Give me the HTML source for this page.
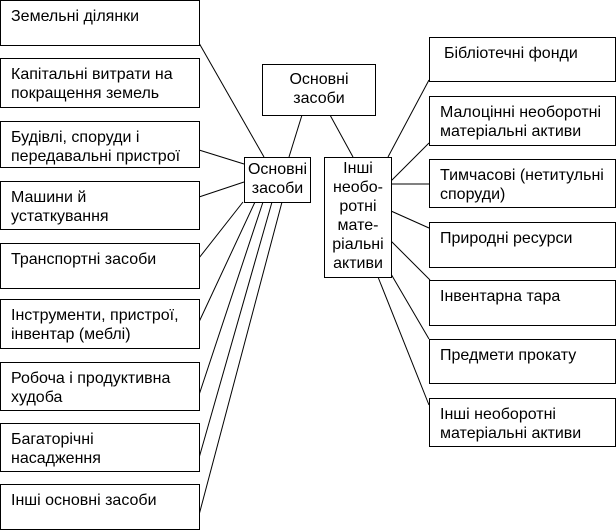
<!DOCTYPE html>
<html><head><meta charset="utf-8"><style>
body{margin:0;background:#fff;}
#c{position:relative;width:616px;height:530px;overflow:hidden;font-family:"Liberation Sans",Arial,sans-serif;font-size:16px;color:#000;}
.b{position:absolute;border:1px solid #000;box-sizing:border-box;background:#fff;line-height:19px;padding:6px 0 0 10px;white-space:nowrap;}
.cn{text-align:center;padding:2px 0 0 0;}
svg{position:absolute;left:0;top:0;}
</style></head><body><div id="c">
<svg width="616" height="530"><g stroke="#000" stroke-width="1" fill="none">
<line x1="302" y1="115" x2="289" y2="157"/>
<line x1="330" y1="115" x2="353" y2="157"/>
<line x1="199" y1="43" x2="264" y2="157"/>
<line x1="199" y1="150" x2="244" y2="164"/>
<line x1="199" y1="197" x2="244" y2="182"/>
<line x1="199" y1="258" x2="243" y2="202"/>
<line x1="199" y1="322" x2="255" y2="202"/>
<line x1="199" y1="395" x2="263" y2="202"/>
<line x1="199" y1="458" x2="272" y2="202"/>
<line x1="199" y1="515" x2="282" y2="202"/>
<line x1="388" y1="157" x2="429" y2="80"/>
<line x1="391" y1="181" x2="429" y2="143"/>
<line x1="391" y1="184" x2="429" y2="184"/>
<line x1="391" y1="211" x2="429" y2="228"/>
<line x1="391" y1="241" x2="430" y2="280"/>
<line x1="391" y1="274" x2="429" y2="339"/>
<line x1="378" y1="277" x2="429" y2="405"/>
</g></svg>
<div class="b" style="left:0;top:0;width:200px;height:46px">Земельні ділянки</div>
<div class="b" style="left:0;top:58px;width:200px;height:50px">Капітальні витрати на<br>покращення земель</div>
<div class="b" style="left:0;top:121px;width:200px;height:47px">Будівлі, споруди і<br>передавальні пристрої</div>
<div class="b" style="left:0;top:181px;width:200px;height:49px">Машини й<br>устаткування</div>
<div class="b" style="left:0;top:243px;width:200px;height:46px">Транспортні засоби</div>
<div class="b" style="left:0;top:299px;width:200px;height:50px">Інструменти, пристрої,<br>інвентар (меблі)</div>
<div class="b" style="left:0;top:362px;width:200px;height:49px">Робоча і продуктивна<br>худоба</div>
<div class="b" style="left:0;top:423px;width:200px;height:49px">Багаторічні<br>насадження</div>
<div class="b" style="left:0;top:484px;width:200px;height:46px">Інші основні засоби</div>
<div class="b cn" style="left:262px;top:64px;width:114px;height:52px;padding-top:5px">Основні<br>засоби</div>
<div class="b cn" style="left:244px;top:157px;width:67px;height:46px">Основні<br>засоби</div>
<div class="b cn" style="left:324px;top:157px;width:68px;height:121px;line-height:19px;padding-top:1px">Інші<br>необо-<br>ротні<br>мате-<br>ріальні<br>активи</div>
<div class="b" style="left:429px;top:37px;width:187px;height:45px;padding-left:14px">Бібліотечні фонди</div>
<div class="b" style="left:429px;top:96px;width:187px;height:50px">Малоцінні необоротні<br>матеріальні активи</div>
<div class="b" style="left:429px;top:159px;width:187px;height:49px">Тимчасові (нетитульні<br>споруди)</div>
<div class="b" style="left:429px;top:222px;width:187px;height:46px">Природні ресурси</div>
<div class="b" style="left:429px;top:280px;width:187px;height:46px">Інвентарна тара</div>
<div class="b" style="left:429px;top:339px;width:187px;height:45px">Предмети прокату</div>
<div class="b" style="left:429px;top:398px;width:187px;height:49px">Інші необоротні<br>матеріальні активи</div>
</div></body></html>
